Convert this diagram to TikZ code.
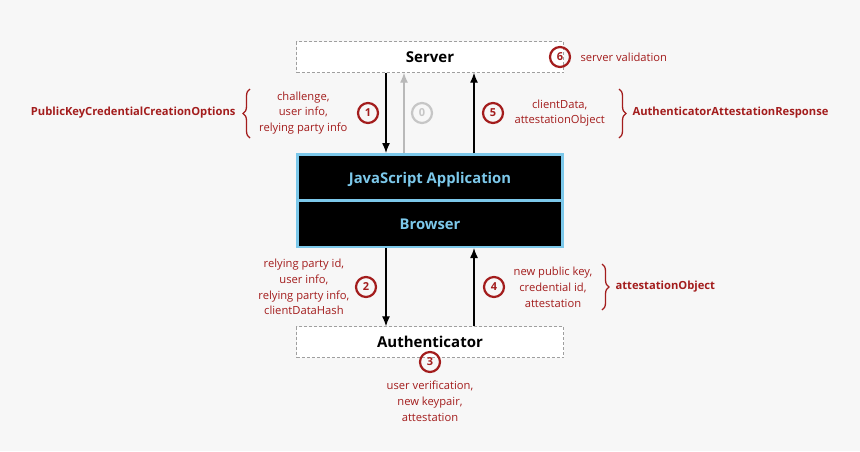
\documentclass[tikz,border=0pt]{standalone}
\usepackage{fontspec}
\setmainfont{Open Sans}
\usetikzlibrary{arrows.meta,decorations.pathreplacing}
\definecolor{darkred}{HTML}{A31D1D}
\definecolor{skyline}{HTML}{7CC8EA}
\definecolor{bggray}{HTML}{F7F7F7}
\tikzset{
  party/.style={draw=gray!75, dash pattern=on 3pt off 2pt, fill=white, minimum width=267pt, minimum height=31pt, font=\bfseries\fontsize{15}{17}\selectfont},
  layer/.style={draw=skyline, line width=2.5pt, fill=black, text=skyline, minimum width=265pt, minimum height=46.5pt, text height=12.6pt, text depth=0pt, font=\bfseries\fontsize{14.8}{17}\selectfont},
  stepnum/.style={circle, draw=darkred, line width=2.2pt, text=darkred, inner sep=0pt, minimum size=20pt, font=\bfseries\fontsize{11}{13}\selectfont},
  info/.style={text=darkred, align=center, font=\fontsize{11.2}{15.8}\selectfont},
  struct/.style={text=darkred, font=\bfseries\fontsize{11.2}{13}\selectfont},
  flow/.style={-{Latex[length=10pt,width=8pt]}, line width=1.3pt},
  curly/.style={decorate, decoration={brace, amplitude=7pt}, draw=darkred, line width=1.3pt},
}
\begin{document}
\begin{tikzpicture}[x=1pt, y=-1pt]
% Background
\fill[bggray] (0,0) rectangle (860,451);
\useasboundingbox (0,0) rectangle (860,451);

% Parties
\node[party] (server) at (430,57) {Server};
\node[party] (auth) at (430,342) {Authenticator};
\node[layer] (jsapp) at (430,177.5) {JavaScript Application};
\node[layer] (browser) at (430,223.5) {Browser};

% Arrows
\draw[flow] ([xshift=-44pt]server.south) -- ([xshift=-44pt]jsapp.north);
\draw[flow, gray!55] ([xshift=-26pt]jsapp.north) -- ([xshift=-26pt]server.south);
\draw[flow] ([xshift=44pt]jsapp.north) -- ([xshift=44pt]server.south);
\draw[flow] ([xshift=-44pt]browser.south) -- ([xshift=-44pt]auth.north);
\draw[flow] ([xshift=44pt]auth.north) -- ([xshift=44pt]browser.south);

% Steps
\node[stepnum] (s0) at (422,113) [draw=gray!45, text=gray!45] {0};
\node[stepnum] (s1) at (368,113) {1};
\node[stepnum] (s2) at (366,287) {2};
\node[stepnum] (s3) at (430,362) {3};
\node[stepnum] (s4) at (494,287) {4};
\node[stepnum] (s5) at (493,113) {5};
\node[stepnum] (s6) at (560,57) {6};

% Labels
\node[info, anchor=west] (valid) at (577,57) {server validation};
\node[info, anchor=east] (chal) at (351,113) {challenge,\\user info,\\relying party info};
\node[info, anchor=west] (cdata) at (511,113) {clientData,\\attestationObject};
\node[info, anchor=east] (rpid) at (353,287) {relying party id,\\user info,\\relying party info,\\clientDataHash};
\node[info] (newkey) at (553,287) {new public key,\\credential id,\\attestation};
\node[info] (verif) at (430,401) {user verification,\\new keypair,\\attestation};

% Braces
\draw[curly] (250,138) -- (250,89);
\draw[curly] (619,89) -- (619,138);
\draw[curly] (602,264) -- (602,310);
\node[struct, anchor=east] (pkcco) at (239,113) {PublicKeyCredentialCreationOptions};
\node[struct, anchor=west] (aar) at (629,113) {AuthenticatorAttestationResponse};
\node[struct, anchor=west] (aobj) at (612,287) {attestationObject};
\end{tikzpicture}
\end{document}
